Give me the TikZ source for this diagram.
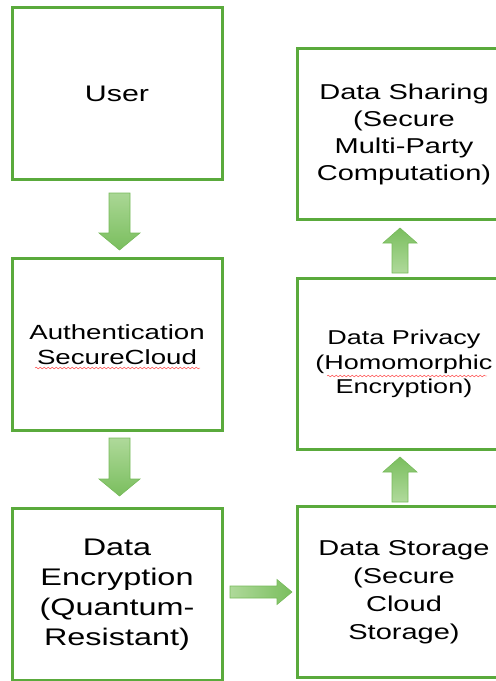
\documentclass[tikz,border=0pt]{standalone}
\usepackage{fontspec}
\setmainfont[FakeStretch=1.35]{Liberation Sans}
\usepackage{tikz}
\usetikzlibrary{positioning,calc,decorations.pathmorphing}

\definecolor{boxgreen}{RGB}{90,170,60}
\definecolor{arrowline}{RGB}{118,186,90}
\definecolor{arrowlight}{RGB}{180,220,160}
\definecolor{arrowdark}{RGB}{122,190,94}

% fat block arrow: shaft/2, head/2, head length, gap at start, gap at end
\tikzset{
  fat/.style n args={5}{to path={
    let \p1=($(\tikztostart)!#4pt!(\tikztotarget)$),
        \p2=($(\tikztotarget)!#5pt!(\tikztostart)$),
        \p3=($(\p2)!#3pt!(\p1)$) in
    ($(\p1)!#1pt!90:(\p2)$) -- ($(\p3)!#1pt!-90:(\p1)$) -- ($(\p3)!#2pt!-90:(\p1)$)
    -- (\p2) -- ($(\p3)!#2pt!90:(\p1)$) -- ($(\p3)!#1pt!90:(\p1)$)
    -- ($(\p1)!#1pt!-90:(\p2)$) -- cycle}}
}

\begin{document}
\begin{tikzpicture}[x=1pt, y=-1pt]
	\tikzstyle{stage}=[draw=boxgreen, line width=3pt, align=center, text=black, inner sep=0pt, minimum width=210pt, minimum height=172pt]
	\tikzstyle{stage right}=[stage, minimum width=214pt, minimum height=171pt]
	\tikzstyle{down}=[draw=arrowline, semithick, top color=arrowlight, bottom color=arrowdark]
	\tikzstyle{up}=[draw=arrowline, semithick, top color=arrowdark, bottom color=arrowlight]
	\tikzstyle{across}=[draw=arrowline, semithick, left color=arrowlight, right color=arrowdark]
	\tikzstyle{wave}=[red!80, thin, decorate, decoration={snake, amplitude=0.9pt, segment length=4pt}]
	\useasboundingbox (0,0) rectangle (496,681);
	\node[stage, font=\fontsize{22.5}{27}\selectfont] (user) at (117,93.5) {User};
	\node[stage, below=76pt of user, font=\fontsize{20.5}{25}\selectfont] (auth) {Authentication\\SecureCloud};
	\node[stage, below=75pt of auth, font=\fontsize{24}{30}\selectfont] (enc) {Data\\Encryption\\(Quantum-\\Resistant)};
	\node[stage right, right=72pt of enc, yshift=2.5pt, font=\fontsize{21.5}{28}\selectfont] (store) {Data Storage\\(Secure\\Cloud\\Storage)};
	\node[stage right, above=54pt of store, font=\fontsize{20}{24.5}\selectfont] (priv) {Data Privacy\\(Homomorphic\\Encryption)};
	\node[stage right, above=56pt of priv, font=\fontsize{21.5}{27}\selectfont] (share) {Data Sharing\\(Secure\\Multi-Party\\Computation)};
	\path
	([xshift=2.5pt]user.south) edge[down, fat={10.5}{20.5}{17}{12}{7}] ([xshift=2.5pt]auth.north)
	([xshift=2.5pt]auth.south) edge[down, fat={10.5}{20.5}{17}{6}{11}] ([xshift=2.5pt]enc.north)
	(enc.east |- store.west) edge[across, fat={6}{12.5}{15}{6.5}{3.5}] (store.west)
	([xshift=-4pt]store.north) edge[up, fat={8}{17}{15}{3}{6}] ([xshift=-4pt]priv.south)
	([xshift=-4pt]priv.north) edge[up, fat={8}{17}{15}{4}{7}] ([xshift=-4pt]share.south);
	% spell-check waves
	\draw[wave] ($(auth.center)+(-82,23.5)$) -- ++(165,0);
	\draw[wave] ($(priv.center)+(-77,12)$) -- ++(160,0);
\end{tikzpicture}
\end{document}
